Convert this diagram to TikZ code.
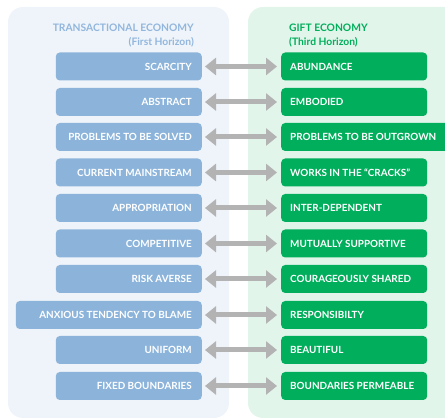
\documentclass[tikz,border=0pt]{standalone}
\usepackage{fontspec}
\setmainfont{Lato}
\usetikzlibrary{arrows.meta}
\definecolor{panelblue}{HTML}{EEF4FA}
\definecolor{panelgreen}{HTML}{E2F5EA}
\definecolor{boxblue}{HTML}{8CB4DB}
\definecolor{boxgreen}{HTML}{00AE5B}
\definecolor{titleblue}{HTML}{92B6DD}
\definecolor{arrowgray}{HTML}{B3B3B3}
\newcommand{\rtext}[2][126pt]{\makebox[#1][r]{#2}}
\newcommand{\ltext}[2][128pt]{\makebox[#1][l]{#2}}
\tikzset{
  panel/.style={rounded corners=15pt, draw=none},
  item/.style={rounded corners=4pt, minimum height=28pt, inner ysep=0pt,
    text height=7.2pt, text depth=0pt, text=white,
    font=\fontsize{9.9}{12}\selectfont\bfseries},
  oldbox/.style={item, fill=boxblue, anchor=east, inner xsep=10pt},
  newbox/.style={item, fill=boxgreen, anchor=west, inner xsep=9pt},
  swap/.style={draw=arrowgray, line width=5pt,
    {Triangle[length=11pt,width=17pt]}-{Triangle[length=11pt,width=17pt]},
    shorten <=3pt, shorten >=4pt},
  heading/.style={font=\fontsize{10.3}{12}\selectfont\bfseries, inner sep=0pt}
}
\begin{document}
\begin{tikzpicture}[x=1pt,y=-1pt]
\useasboundingbox (0,0) rectangle (445,419);
% background panels
\fill[panel, panelblue] (8,7) rectangle (229,418);
\fill[panel, panelgreen] (248,7) rectangle (470,418);
% headings
\node[heading, text=titleblue, anchor=east] (th1) at (194,28) {TRANSACTIONAL ECONOMY};
\node[heading, text=titleblue, anchor=east] (th2) at (194,42) {(First Horizon)};
\node[heading, text=boxgreen, anchor=west] (gh1) at (289,28) {GIFT ECONOMY};
\node[heading, text=boxgreen, anchor=west] (gh2) at (289,42) {(Third Horizon)};
% transactional side
\node[oldbox] (o1) at (202,66.5) {\rtext{SCARCITY}};
\node[oldbox] (o2) at (202,102) {\rtext{ABSTRACT}};
\node[oldbox] (o3) at (202,137) {\rtext{PROBLEMS TO BE SOLVED}};
\node[oldbox] (o4) at (202,172.5) {\rtext{CURRENT MAINSTREAM}};
\node[oldbox] (o5) at (202,208) {\rtext{APPROPRIATION}};
\node[oldbox] (o6) at (202,243.5) {\rtext{COMPETITIVE}};
\node[oldbox] (o7) at (202,279) {\rtext{RISK AVERSE}};
\node[oldbox] (o8) at (202,315) {\rtext[166pt]{ANXIOUS TENDENCY TO BLAME}};
\node[oldbox] (o9) at (202,350) {\rtext{UNIFORM}};
\node[oldbox] (o10) at (202,386) {\rtext{FIXED BOUNDARIES}};
% gift side
\node[newbox] (n1) at (281,66.5) {\ltext{ABUNDANCE}};
\node[newbox] (n2) at (281,102) {\ltext{EMBODIED}};
\node[newbox] (n3) at (281,137) {\ltext[155pt]{PROBLEMS TO BE OUTGROWN}};
\node[newbox] (n4) at (281,172.5) {\ltext{WORKS IN THE “CRACKS”}};
\node[newbox] (n5) at (281,208) {\ltext{INTER-DEPENDENT}};
\node[newbox] (n6) at (281,243.5) {\ltext{MUTUALLY SUPPORTIVE}};
\node[newbox] (n7) at (281,279) {\ltext{COURAGEOUSLY SHARED}};
\node[newbox] (n8) at (281,315) {\ltext{RESPONSIBILTY}};
\node[newbox] (n9) at (281,350) {\ltext{BEAUTIFUL}};
\node[newbox] (n10) at (281,386) {\ltext{BOUNDARIES PERMEABLE}};
% two-way arrows
\foreach \i in {1,...,10}
  \draw[swap] (o\i.east) -- (n\i.west);
\end{tikzpicture}
\end{document}
